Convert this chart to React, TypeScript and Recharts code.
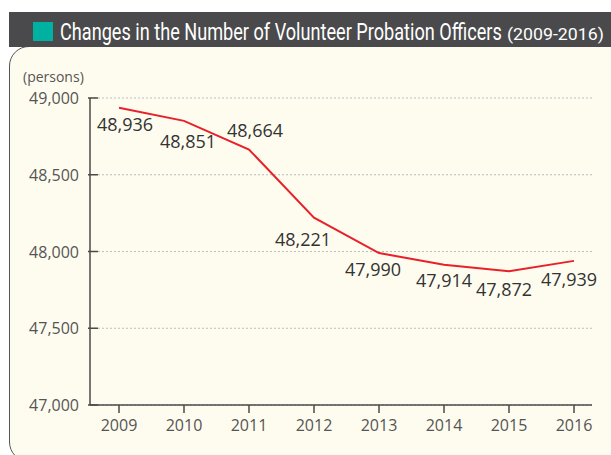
import React, { useLayoutEffect, useRef, useState } from "react";
import {
  LineChart,
  Line,
  XAxis,
  YAxis,
  CartesianGrid,
  LabelList,
} from "recharts";

const years = [2009, 2010, 2011, 2012, 2013, 2014, 2015, 2016];
const officers = [48936, 48851, 48664, 48221, 47990, 47914, 47872, 47939];
const yTicks = [47000, 47500, 48000, 48500, 49000];

const data = years.map((year, i) => ({ year, value: officers[i] }));

// where each value label sits relative to its point
const labelOffsets = [
  [6, 17],
  [4, 21],
  [6, -19],
  [-11, 22],
  [-6, 17],
  [0, 16],
  [-5, 19],
  [-5, 19],
];

const axisColor = "#4a4a4a";
const textColor = "#555";
const font = "'Open Sans', 'Noto Sans', sans-serif";
const titleFont = "Roboto, 'Liberation Sans', sans-serif";

const XTick = (props: any) => {
  const { x, y, payload } = props;
  return (
    <g>
      <line x1={x} x2={x} y1={y - 8} y2={y} stroke={axisColor} strokeWidth={1.5} />
      <text x={x} y={y + 18} textAnchor="middle" fill={textColor} fontSize={16} fontFamily={font}>
        {payload.value}
      </text>
    </g>
  );
};

const YTick = (props: any) => {
  const { x, y, payload } = props;
  return (
    <g>
      <line x1={x} x2={x + 10} y1={y} y2={y} stroke={axisColor} strokeWidth={1.5} />
      <text x={x - 9} y={y + 6} textAnchor="end" fill={textColor} fontSize={16} fontFamily={font}>
        {payload.value.toLocaleString("en-US")}
      </text>
    </g>
  );
};

const ValueLabel = (props: any) => {
  const { x, y, value, index } = props;
  const [dx, dy] = labelOffsets[index];
  return (
    <text
      x={x + dx}
      y={y + dy + 6}
      textAnchor="middle"
      fill="#333"
      fontSize={18}
      fontFamily={font}
    >
      {Number(value).toLocaleString("en-US")}
    </text>
  );
};

// condensed title: squeeze the text horizontally to a given width
const Squeezed = ({ x, y, size, width, children }: any) => {
  const ref = useRef<SVGTextElement>(null);
  const [sx, setSx] = useState(1);
  useLayoutEffect(() => {
    if (ref.current) {
      const len = ref.current.getComputedTextLength();
      if (len > 0) setSx(width / len);
    }
  }, [width]);
  return (
    <g transform={`translate(${x},${y}) scale(${sx},1)`}>
      <text ref={ref} x={0} y={0} fill="#fff" fontFamily={titleFont} fontSize={size}>
        {children}
      </text>
    </g>
  );
};

export default function App() {
  return (
    <div
      style={{
        position: "absolute",
        left: 0,
        top: 0,
        width: 611,
        height: 455,
        background: "#fff",
        overflow: "hidden",
      }}
    >
      <div
        style={{
          position: "absolute",
          left: 9,
          top: 46,
          width: 640,
          height: 414,
          background: "#fefcef",
          border: "1.5px solid #555",
          borderRadius: 20,
        }}
      />
      <div
        style={{
          position: "absolute",
          left: 9,
          top: 12,
          width: 602,
          height: 35,
          background: "#4a4a4c",
        }}
      />
      <div
        style={{
          position: "absolute",
          left: 33,
          top: 22,
          width: 20,
          height: 19,
          background: "#00b0a0",
        }}
      />
      <svg
        width={611}
        height={52}
        style={{ position: "absolute", left: 0, top: 0 }}
      >
        <Squeezed x={60} y={40} size={23} width={442}>
          Changes in the Number of Volunteer Probation Officers
        </Squeezed>
        <Squeezed x={507} y={40} size={16} width={97}>
          (2009-2016)
        </Squeezed>
      </svg>
      <div
        style={{
          position: "absolute",
          left: 23,
          top: 67,
          color: textColor,
          fontFamily: font,
          fontSize: 14,
        }}
      >
        (persons)
      </div>
      <div style={{ position: "absolute", left: 0, top: 0 }}>
        <LineChart
          width={611}
          height={455}
          data={data}
          margin={{ top: 98, right: 19, bottom: 20, left: 20 }}
        >
          <CartesianGrid
            horizontal
            vertical={false}
            stroke="#bdbdbd"
            strokeDasharray="2 2"
          />
          <XAxis
            dataKey="year"
            type="number"
            domain={[2008.554, 2016.277]}
            ticks={years}
            tick={<XTick />}
            tickLine={false}
            axisLine={{ stroke: axisColor, strokeWidth: 1.5 }}
            height={30}
            interval={0}
          />
          <YAxis
            type="number"
            domain={[47000, 49000]}
            ticks={yTicks}
            tick={<YTick />}
            tickLine={false}
            tickSize={0}
            axisLine={{ stroke: axisColor, strokeWidth: 1.5 }}
            width={70}
            interval={0}
          />
          <Line
            type="linear"
            dataKey="value"
            stroke="#e8202a"
            strokeWidth={2}
            dot={false}
            isAnimationActive={false}
          >
            <LabelList dataKey="value" content={<ValueLabel />} />
          </Line>
        </LineChart>
      </div>
    </div>
  );
}
